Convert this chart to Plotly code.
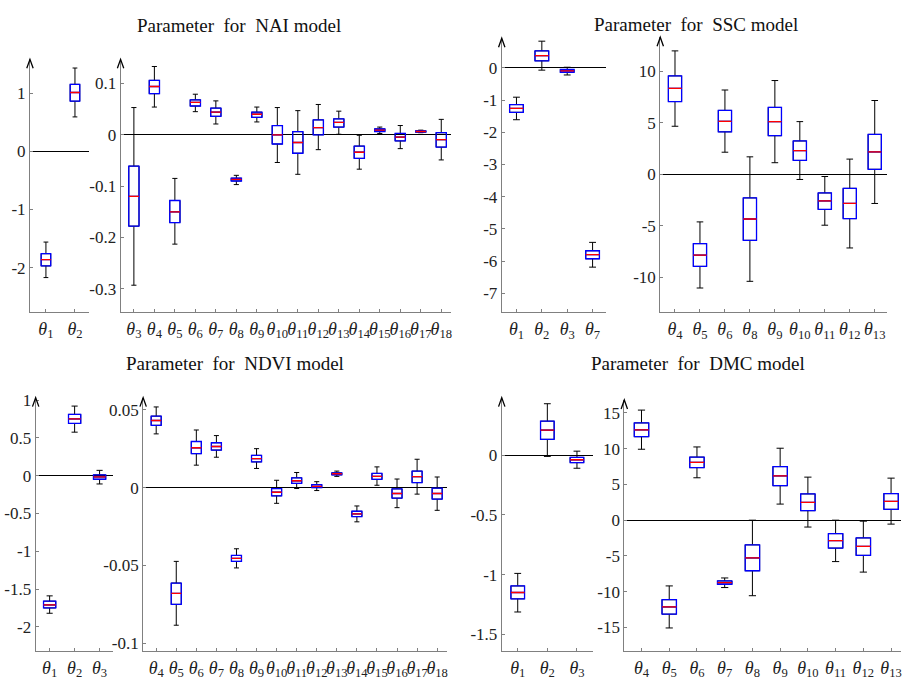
import plotly.graph_objects as go

# ---------------- data ----------------
# NAI model
nai_a_labels = [1, 2]
nai_a_low = [-2.17, 0.59]
nai_a_q1 = [-1.97, 0.86]
nai_a_med = [-1.86, 1.01]
nai_a_q3 = [-1.76, 1.15]
nai_a_high = [-1.56, 1.43]

nai_b_labels = [3, 4, 5, 6, 7, 8, 9, 10, 11, 12, 13, 14, 15, 16, 17, 18]
nai_b_low = [-0.293, 0.054, -0.213, 0.045, 0.021, -0.097, 0.025, -0.054, -0.077, -0.029, 0.001, -0.067, 0.0026, -0.027, 0.004, -0.049]
nai_b_q1 = [-0.178, 0.080, -0.171, 0.056, 0.036, -0.090, 0.034, -0.018, -0.036, 0.0, 0.015, -0.046, 0.0064, -0.012, 0.005, -0.024]
nai_b_med = [-0.120, 0.094, -0.150, 0.063, 0.044, -0.087, 0.040, 0.0, -0.015, 0.014, 0.024, -0.034, 0.009, -0.0045, 0.0064, -0.0096]
nai_b_q3 = [-0.061, 0.106, -0.128, 0.068, 0.052, -0.0845, 0.044, 0.018, 0.006, 0.029, 0.031, -0.022, 0.0115, 0.0026, 0.0077, 0.004]
nai_b_high = [0.053, 0.133, -0.085, 0.079, 0.066, -0.079, 0.054, 0.053, 0.047, 0.059, 0.046, -0.001, 0.015, 0.018, 0.009, 0.030]

# SSC model
ssc_a_labels = [1, 2, 3, 7]
ssc_a_low = [-1.61, -0.07, -0.22, -6.19]
ssc_a_q1 = [-1.38, 0.22, -0.14, -5.93]
ssc_a_med = [-1.26, 0.38, -0.09, -5.80]
ssc_a_q3 = [-1.14, 0.53, -0.05, -5.68]
ssc_a_high = [-0.91, 0.83, 0.02, -5.42]

ssc_b_labels = [4, 5, 6, 8, 9, 10, 11, 12, 13]
ssc_b_low = [4.66, -11.05, 2.14, -10.4, 1.12, -0.51, -4.95, -7.16, -2.84]
ssc_b_q1 = [7.06, -8.95, 4.12, -6.42, 3.74, 1.34, -3.42, -4.31, 0.48]
ssc_b_med = [8.34, -7.86, 5.14, -4.35, 5.11, 2.30, -2.59, -2.84, 2.17]
ssc_b_q3 = [9.55, -6.74, 6.20, -2.30, 6.49, 3.23, -1.82, -1.37, 3.87]
ssc_b_high = [11.98, -4.63, 8.18, 1.69, 9.10, 5.11, -0.22, 1.47, 7.16]

# NDVI model
ndvi_a_labels = [1, 2, 3]
ndvi_a_low = [-1.82, 0.575, -0.11]
ndvi_a_q1 = [-1.75, 0.69, -0.048]
ndvi_a_med = [-1.71, 0.75, -0.017]
ndvi_a_q3 = [-1.66, 0.81, 0.01]
ndvi_a_high = [-1.59, 0.92, 0.07]

ndvi_b_labels = [4, 5, 6, 7, 8, 9, 10, 11, 12, 13, 14, 15, 16, 17, 18]
ndvi_b_low = [0.0345, -0.0884, 0.0144, 0.0195, -0.0516, 0.0123, -0.0101, -0.0006, -0.0019, 0.0072, -0.0220, 0.0015, -0.0129, -0.0042, -0.0146]
ndvi_b_q1 = [0.0400, -0.0750, 0.0218, 0.0241, -0.0474, 0.0165, -0.0053, 0.0027, 0.0, 0.0082, -0.0186, 0.0053, -0.0068, 0.0032, -0.0074]
ndvi_b_med = [0.0431, -0.0680, 0.0256, 0.0264, -0.0455, 0.0186, -0.0030, 0.0044, 0.0008, 0.0089, -0.0169, 0.0072, -0.0038, 0.0070, -0.0038]
ndvi_b_q3 = [0.0459, -0.0613, 0.0296, 0.0288, -0.0436, 0.0207, -0.0006, 0.0063, 0.0019, 0.0095, -0.0152, 0.0091, -0.0008, 0.0106, -0.0004]
ndvi_b_high = [0.0518, -0.0474, 0.0370, 0.0334, -0.0393, 0.0250, 0.0047, 0.0097, 0.0038, 0.0106, -0.0118, 0.0133, 0.0055, 0.0182, 0.0068]

# DMC model
dmc_a_labels = [1, 2, 3]
dmc_a_low = [-1.313, -0.011, -0.11]
dmc_a_q1 = [-1.203, 0.132, -0.063]
dmc_a_med = [-1.15, 0.209, -0.039]
dmc_a_q3 = [-1.095, 0.284, -0.019]
dmc_a_high = [-0.99, 0.43, 0.033]

dmc_b_labels = [4, 5, 6, 7, 8, 9, 10, 11, 12, 13]
dmc_b_low = [9.92, -15.07, 5.93, -9.42, -10.56, 2.25, -0.96, -5.79, -7.26, -0.55]
dmc_b_q1 = [11.67, -13.14, 7.35, -8.96, -7.07, 4.82, 1.33, -3.90, -4.92, 1.52]
dmc_b_med = [12.63, -12.13, 8.08, -8.73, -5.28, 6.20, 2.48, -2.85, -3.67, 2.62]
dmc_b_q3 = [13.60, -11.12, 8.82, -8.50, -3.45, 7.49, 3.67, -1.88, -2.48, 3.72]
dmc_b_high = [15.39, -9.19, 10.24, -8.08, 0.0, 10.06, 6.02, 0.0, -0.14, 5.88]

titles = ["Parameter  for  NAI model", "Parameter  for  SSC model",
          "Parameter  for  NDVI model", "Parameter  for  DMC model"]

# y tick values / texts per subplot
nai_a_ticks = [-2, -1, 0, 1]
nai_a_ticktext = ["-2", "-1", "0", "1"]
nai_b_ticks = [-0.3, -0.2, -0.1, 0, 0.1]
nai_b_ticktext = ["-0.3", "-0.2", "-0.1", "0", "0.1"]
ssc_a_ticks = [-7, -6, -5, -4, -3, -2, -1, 0]
ssc_a_ticktext = ["-7", "-6", "-5", "-4", "-3", "-2", "-1", "0"]
ssc_b_ticks = [-10, -5, 0, 5, 10]
ssc_b_ticktext = ["-10", "-5", "0", "5", "10"]
ndvi_a_ticks = [-2, -1.5, -1, -0.5, 0, 0.5, 1]
ndvi_a_ticktext = ["-2", "-1.5", "-1", "-0.5", "0", "0.5", "1"]
ndvi_b_ticks = [-0.1, -0.05, 0, 0.05]
ndvi_b_ticktext = ["-0.1", "-0.05", "0", "0.05"]
dmc_a_ticks = [-1.5, -1, -0.5, 0]
dmc_a_ticktext = ["-1.5", "-1", "-0.5", "0"]
dmc_b_ticks = [-15, -10, -5, 0, 5, 10, 15]
dmc_b_ticktext = ["-15", "-10", "-5", "0", "5", "10", "15"]

# ---------------- layout geometry (pixels in a 902x680 page) ----------------
W, H = 902, 680
FONT = "Liberation Serif, DejaVu Serif, Times New Roman, serif"

panels = [
    dict(lab=nai_a_labels, lo=nai_a_low, q1=nai_a_q1, me=nai_a_med, q3=nai_a_q3, hi=nai_a_high,
         tv=nai_a_ticks, tt=nai_a_ticktext, xpx=(30, 89), ypx=(53, 309),
         xr=(0.45, 2.48), yr=(-2.76, 1.58), bw=0.33),
    dict(lab=nai_b_labels, lo=nai_b_low, q1=nai_b_q1, me=nai_b_med, q3=nai_b_q3, hi=nai_b_high,
         tv=nai_b_ticks, tt=nai_b_ticktext, xpx=(120.7, 452), ypx=(53, 309),
         xr=(0.35, 16.5), yr=(-0.345, 0.147), bw=0.5),
    dict(lab=ssc_a_labels, lo=ssc_a_low, q1=ssc_a_q1, me=ssc_a_med, q3=ssc_a_q3, hi=ssc_a_high,
         tv=ssc_a_ticks, tt=ssc_a_ticktext, xpx=(502.3, 606.7), ypx=(31.7, 309.3),
         xr=(0.42, 4.53), yr=(-7.59, 0.92), bw=0.54),
    dict(lab=ssc_b_labels, lo=ssc_b_low, q1=ssc_b_q1, me=ssc_b_med, q3=ssc_b_q3, hi=ssc_b_high,
         tv=ssc_b_ticks, tt=ssc_b_ticktext, xpx=(661, 887.7), ypx=(30.7, 309.3),
         xr=(0.41, 9.48), yr=(-13.4, 13.3), bw=0.53),
    dict(lab=ndvi_a_labels, lo=ndvi_a_low, q1=ndvi_a_q1, me=ndvi_a_med, q3=ndvi_a_q3, hi=ndvi_a_high,
         tv=ndvi_a_ticks, tt=ndvi_a_ticktext, xpx=(35.7, 112.7), ypx=(396, 652.7),
         xr=(0.44, 3.52), yr=(-2.32, 1.03), bw=0.49),
    dict(lab=ndvi_b_labels, lo=ndvi_b_low, q1=ndvi_b_q1, me=ndvi_b_med, q3=ndvi_b_q3, hi=ndvi_b_high,
         tv=ndvi_b_ticks, tt=ndvi_b_ticktext, xpx=(143.3, 447.7), ypx=(396, 652.7),
         xr=(0.35, 15.5), yr=(-0.105, 0.0577), bw=0.5),
    dict(lab=dmc_a_labels, lo=dmc_a_low, q1=dmc_a_q1, me=dmc_a_med, q3=dmc_a_q3, hi=dmc_a_high,
         tv=dmc_a_ticks, tt=dmc_a_ticktext, xpx=(502.3, 593.3), ypx=(396, 652.7),
         xr=(0.46, 3.53), yr=(-1.64, 0.48), bw=0.46),
    dict(lab=dmc_b_labels, lo=dmc_b_low, q1=dmc_b_q1, me=dmc_b_med, q3=dmc_b_q3, hi=dmc_b_high,
         tv=dmc_b_ticks, tt=dmc_b_ticktext, xpx=(625, 901.5), ypx=(398.3, 652.7),
         xr=(0.38, 10.34), yr=(-18.3, 16.8), bw=0.52),
]

title_pos = [(238.8, 19), (696.7, 18), (235, 361.7), (699, 361.7)]

fig = go.Figure()
layout = dict(
    width=W, height=H, margin=dict(l=0, r=0, t=0, b=0),
    paper_bgcolor="white", plot_bgcolor="white",
    showlegend=False, boxmode="overlay",
    font=dict(family=FONT, size=17, color="#222222"),
)
shapes = []
annotations = []

for i, p in enumerate(panels):
    n = i + 1
    xa = "x" if n == 1 else f"x{n}"
    ya = "y" if n == 1 else f"y{n}"
    pos = list(range(1, len(p["lab"]) + 1))
    common = dict(x=pos, xaxis=xa, yaxis=ya, width=p["bw"], boxpoints=False,
                  fillcolor="rgba(0,0,0,0)", hoverinfo="skip")
    # whiskers (black)
    fig.add_trace(go.Box(q1=p["q1"], median=p["me"], q3=p["q3"],
                         lowerfence=p["lo"], upperfence=p["hi"],
                         line=dict(color="black", width=1), whiskerwidth=0.5, **common))
    # box (blue)
    fig.add_trace(go.Box(q1=p["q1"], median=p["me"], q3=p["q3"],
                         lowerfence=p["q1"], upperfence=p["q3"],
                         line=dict(color="#0000ff", width=1.3), whiskerwidth=0, **common))
    # median (red)
    fig.add_trace(go.Box(q1=p["me"], median=p["me"], q3=p["me"],
                         lowerfence=p["me"], upperfence=p["me"],
                         line=dict(color="#ff0000", width=1.3), whiskerwidth=0, **common))

    x0, x1 = p["xpx"][0] / W, p["xpx"][1] / W
    y1, y0 = 1 - p["ypx"][0] / H, 1 - p["ypx"][1] / H
    key = "" if n == 1 else str(n)
    layout["xaxis" + key] = dict(
        domain=[x0, x1], anchor=ya, range=list(p["xr"]),
        showline=True, linecolor="#808080", linewidth=1,
        ticks="inside", ticklen=3, tickcolor="#808080",
        tickvals=pos, tickangle=0, ticklabeloverflow="allow",
        ticktext=[f"<i>θ</i><sub>{k}</sub>" for k in p["lab"]],
        tickfont=dict(family=FONT, size=18, color="#222222"),
        showgrid=False, zeroline=False, fixedrange=True,
    )
    layout["yaxis" + key] = dict(
        domain=[y0, y1], anchor=xa, range=list(p["yr"]),
        showline=True, linecolor="#808080", linewidth=1,
        ticks="inside", ticklen=3, tickcolor="#808080",
        tickvals=p["tv"], ticktext=p["tt"], ticklabeloverflow="allow",
        tickfont=dict(family=FONT, size=17, color="#222222"),
        showgrid=False, zeroline=True, zerolinecolor="black", zerolinewidth=1,
        fixedrange=True,
    )
    # arrow head on top of y axis
    dx, dy = 3.2 / W, 9 / H
    shapes.append(dict(
        type="path", xref="paper", yref="paper",
        path=f"M {x0 - dx},{y1 - dy} L {x0},{y1} L {x0 + dx},{y1 - dy}",
        line=dict(color="black", width=1.3),
    ))

for t, (tx, ty) in zip(titles, title_pos):
    annotations.append(dict(
        text=t, x=tx / W, y=1 - ty / H, xref="paper", yref="paper",
        xanchor="center", yanchor="middle", showarrow=False,
        font=dict(family=FONT, size=19, color="#111111"),
    ))

layout["shapes"] = shapes
layout["annotations"] = annotations
fig.update_layout(**layout)
fig.write_html("out.html")
